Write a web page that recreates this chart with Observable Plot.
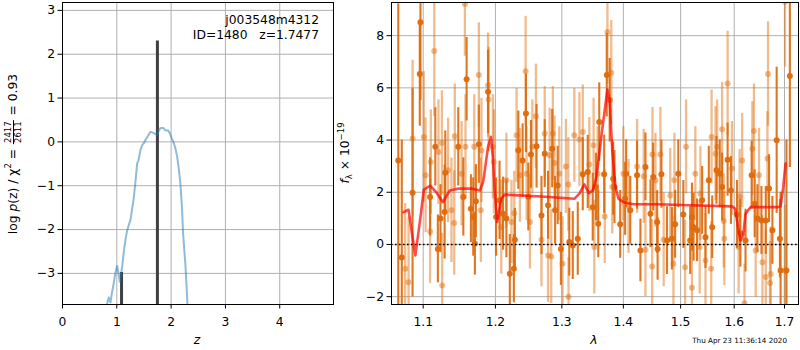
<!DOCTYPE html>
<html><head><meta charset="utf-8">
<script src="https://cdn.jsdelivr.net/npm/d3@7"></script>
<script src="https://cdn.jsdelivr.net/npm/@observablehq/plot@0.6"></script>
<style>
body{margin:0;background:#fff;font-family:"DejaVu Sans",sans-serif;}
#wrap{position:relative;width:800px;height:350px;overflow:hidden;background:#fff}
#left,#right{position:absolute;top:0}
#left{left:0}
#right{left:345px}
.lab{position:absolute;white-space:nowrap;font-size:12.3px;color:#000;line-height:1;transform:translate(-50%,-50%)}
.rot{transform:translate(-50%,-50%) rotate(-90deg)}
.frac{display:inline-flex;flex-direction:column;vertical-align:middle;font-size:8.5px;line-height:1;text-align:center;margin:0 1px}
.frac .num{border-bottom:1px solid #000;padding:0 1px}
sub,sup{font-size:8.5px;line-height:0}
#stamp{position:absolute;right:13px;top:336px;font-size:7.2px;white-space:nowrap}
</style></head>
<body><div id="wrap">
<div id="left"></div><div id="right"></div>
<div class="lab rot" style="left:12.5px;top:153.5px">log <i>p</i>(z) / χ<sup>2</sup> = <span class="frac"><span class="num">2417</span><span>2611</span></span> = 0.93</div>
<div class="lab rot" style="left:345px;top:153px"><i>f</i><sub>λ</sub> × 10<sup>−19</sup></div>
<div class="lab" style="left:197px;top:340px"><i>z</i></div>
<div class="lab" style="left:594px;top:340px"><i>λ</i></div>
<div id="stamp">Thu Apr 23 11:36:14 2020</div>
</div>
<script>
// ---------- Left panel data ----------
const zTicks = [0, 1, 2, 3, 4];
const pzTicks = [-3, -2, -1, 0, 1, 2, 3];
const zDomain = [0, 4.99];
const pzDomain = [-3.71, 3.18];
const zCurve = [0.82,0.835,0.853,0.87,0.884,0.91,0.945,0.975,1.007,1.03,1.055,1.075,1.10,1.13,1.16,1.19,1.22,1.252,1.28,1.31,1.34,1.375,1.40,1.436,1.47,1.497,1.53,1.57,1.62,1.66,1.70,1.74,1.77,1.80,1.84,1.866,1.89,1.91,1.946,1.975,2.0,2.05,2.08,2.11,2.14,2.17,2.20,2.22,2.245,2.265,2.285,2.30];
const logPz = [-3.71,-3.62,-3.55,-3.63,-3.66,-3.45,-3.21,-2.98,-2.83,-2.98,-3.19,-3.05,-2.83,-2.50,-2.23,-2.02,-1.90,-1.78,-1.55,-1.30,-0.95,-0.49,-0.42,-0.18,-0.07,-0.03,0.05,0.13,0.23,0.21,0.19,0.16,0.24,0.31,0.32,0.31,0.27,0.26,0.26,0.20,0.12,-0.03,-0.15,-0.33,-0.60,-0.94,-1.50,-2.08,-2.50,-2.84,-3.30,-3.71];
const zPeaks = [1.087, 1.7477];
const peakLogP = [-2.98, 2.30];
const infoLines = ["j003548m4312", "ID=1480\u00a0\u00a0\u00a0z=1.7477"];

// ---------- Right panel data ----------
const lamTicks = [1.1, 1.2, 1.3, 1.4, 1.5, 1.6, 1.7];
const fluxTicks = [-2, 0, 2, 4, 6, 8];
const lamDomain = [1.0588, 1.7289];
const fluxDomain = [-2.3, 9.27];

const lamDark = [1.0675,1.072,1.086,1.0955,1.0964,1.1092,1.1162,1.1196,1.1232,1.1288,1.1297,1.1475,1.1545,1.1591,1.1651,1.1684,1.1707,1.1721,1.1763,1.1894,
1.2010,1.2060,1.2111,1.2160,1.2210,1.2270,1.2285,1.2336,1.2400,1.2450,1.2486,1.2525,1.2610,1.2685,1.2735,1.2786,1.2850,1.2895,1.2935,1.2985,
1.3117,1.3172,1.3252,1.3332,1.3412,1.3493,1.3546,1.3583,1.3599,1.3680,1.3723,1.3771,1.3830,1.3851,1.3947,1.4030,1.4047,1.4117,1.4233,1.4291,
1.4378,1.4465,1.4512,1.4582,1.4590,1.4657,1.4756,1.4843,1.4901,1.4958,1.5049,1.5174,1.5206,1.5236,1.5300,1.5394,1.5456,1.5518,1.5582,1.5662,
1.5724,1.5769,1.5874,1.5938,1.6054,1.6120,1.6220,1.6340,1.6400,1.6454,1.6534,1.6620,1.6686,1.6754,1.6840,1.6906,1.6920,1.7040,1.7110];
const fluxDark = [3.22,-0.5,1.98,6.53,8.51,1.82,3.74,-0.17,0.99,1.24,2.75,3.74,1.82,6.33,1.37,1.05,0.03,1.66,3.84,5.85,
1.05,1.69,1.18,0.99,-1.12,-0.93,0.18,3.61,3.22,5.02,1.82,3.45,3.76,1.11,3.48,1.50,3.67,1.31,2.26,-0.17,
0.09,-0.04,0.22,2.69,2.78,1.43,2.20,0.79,4.69,2.69,6.49,5.53,2.52,2.20,0.77,1.75,2.71,1.31,2.65,-0.23,
2.97,1.18,2.58,0.86,-0.17,2.69,0.15,0.22,0.77,2.71,1.15,0.15,1.05,0.66,0.54,1.69,0.28,2.46,0.66,2.84,
2.71,2.20,3.25,2.07,1.15,0.43,0.15,2.65,1.56,0.99,0.92,0.92,2.14,0.54,3.99,0.22,-1.0,-1.0,6.45];
const errDark = [6.0,4.5,4.0,2.0,3.0,1.5,1.5,1.3,1.3,1.8,1.6,1.5,1.5,1.6,1.3,1.5,1.2,1.4,1.5,1.6,
1.5,1.5,1.4,1.5,1.5,1.3,1.2,1.5,1.4,1.5,1.3,1.3,1.6,1.5,1.3,1.3,1.5,1.3,1.5,1.4,
1.3,1.3,1.4,1.4,1.4,1.3,1.3,1.3,1.5,1.5,1.6,1.6,1.4,1.4,1.3,1.4,1.3,1.3,1.3,1.2,
1.3,1.3,1.3,1.2,1.2,1.3,1.3,1.2,1.3,1.3,1.3,1.3,1.3,1.3,1.2,1.3,1.2,1.3,1.2,1.3,
1.3,1.3,1.4,1.3,1.3,1.3,1.2,1.3,1.3,1.3,1.3,1.3,1.3,1.3,2.8,1.5,3.0,5.0,3.5];

const lamLight = [1.0764,1.0808,1.0861,1.1008,1.1032,1.1092,1.1102,1.1148,1.1204,1.1251,1.1255,1.1335,1.1381,1.1419,1.1427,1.1521,1.1567,1.1575,1.1698,1.1763,
1.1791,1.1800,1.1894,1.1902,1.1964,1.1978,1.2085,1.2160,1.2235,1.2276,1.2310,1.2360,1.2445,1.2460,1.2510,1.2546,1.2600,1.2685,1.2735,1.2786,
1.2810,1.2835,1.2860,1.2885,1.2960,1.3011,1.3064,1.3101,1.3105,1.3197,1.3278,1.3332,1.3438,1.3507,1.3519,1.3573,1.3690,1.3734,1.3798,1.3814,
1.4000,1.4087,1.4233,1.4348,1.4378,1.4495,1.4500,1.4552,1.4639,1.4697,1.4814,1.4871,1.4889,1.5081,1.5099,1.5206,1.5268,1.5349,1.5362,1.5456,
1.5563,1.5570,1.5644,1.5675,1.5769,1.5800,1.5812,1.5874,1.5957,1.6086,1.6106,1.6154,1.6200,1.6354,1.6386,1.6420,1.6486,1.6554,1.6620,1.6654,
1.6666,1.6706,1.6720,1.7006,1.7010];
const fluxLight = [-0.93,-1.45,4.06,4.12,2.65,0.50,3.16,7.41,3.54,3.89,-1.57,2.84,1.31,0.82,4.15,2.71,9.21,3.74,3.74,6.49,
1.31,3.60,6.10,5.55,3.74,3.16,0.66,2.46,0.86,1.20,4.18,2.65,6.64,2.71,0.86,3.74,4.91,0.18,4.25,-0.42,
3.42,-0.46,4.25,3.12,2.71,-0.74,2.99,2.30,-2.00,4.18,4.02,4.31,3.06,3.80,-0.10,2.71,1.07,8.14,6.58,2.20,
2.71,1.46,2.99,2.61,-0.20,-0.84,3.45,2.46,3.45,0.18,1.88,-0.74,2.46,-0.87,3.74,-1.66,2.71,-0.10,1.95,-0.61,
-0.93,4.12,3.48,3.74,4.41,0.90,0.22,6.17,2.91,-0.10,1.84,3.22,-2.25,3.67,4.35,-0.23,2.65,-0.68,-1.25,3.29,
6.53,-1.48,-1.13,-1.00,9.30];
const errLight = [2.5,2.5,3.0,2.5,2.2,2.0,2.0,2.5,2.0,2.0,2.0,2.0,2.0,2.0,2.0,2.0,2.0,2.0,2.0,2.0,
2.0,2.0,2.0,2.0,2.0,2.0,1.8,1.8,1.6,1.6,1.8,1.8,2.1,1.8,1.8,1.8,2.0,1.8,1.8,1.8,
1.8,1.8,1.8,1.8,1.8,1.8,1.8,1.8,1.5,1.8,1.8,1.8,1.8,1.8,1.8,1.8,1.8,2.0,2.0,1.8,
1.8,1.8,1.8,1.8,1.8,1.8,1.8,1.8,1.8,1.8,1.8,1.8,1.8,1.8,1.8,1.6,1.8,1.8,1.8,1.8,
1.8,1.8,1.8,1.8,1.8,1.8,1.8,2.0,1.8,1.8,1.8,1.8,1.5,1.8,1.8,1.8,1.8,1.8,1.8,1.8,
2.0,1.6,1.8,2.5,2.5];

const lamModel = [1.0741,1.0808,1.0853,1.0897,1.0964,1.1008,1.1092,1.1172,1.1265,1.1358,1.1475,1.1661,1.1777,1.1824,1.1894,1.1936,1.1964,1.1986,1.2025,1.2085,
1.2135,1.2336,1.2685,1.3197,1.3278,1.3358,1.3429,1.3493,1.3546,1.3573,1.3653,1.3734,1.3771,1.3814,1.3867,1.3920,1.4000,1.4174,1.4582,1.5174,
1.5957,1.6020,1.6074,1.6120,1.6174,1.6220,1.6320,1.6854,1.6920,1.6974,1.7021];
const fluxModel = [1.24,1.33,0.41,-0.42,1.05,2.10,2.25,2.01,1.62,2.07,2.14,2.14,2.07,2.39,3.74,4.12,3.35,2.20,0.86,1.75,
1.91,1.88,1.84,1.75,1.95,2.30,1.97,2.07,2.52,2.97,4.50,5.94,5.53,3.61,2.20,1.75,1.62,1.54,1.54,1.50,
1.46,1.37,0.66,0.15,0.35,1.18,1.43,1.43,1.46,2.20,3.10];

// ---------- build tables ----------
const pz = zCurve.map((z, i) => ({z, v: logPz[i]}));
const peaks = zPeaks.map((z, i) => ({z, v: peakLogP[i]}));
const dark = lamDark.map((l, i) => ({l, f: fluxDark[i], e: errDark[i]}));
const light = lamLight.map((l, i) => ({l, f: fluxLight[i], e: errLight[i]}));
const model = lamModel.map((l, i) => ({l, f: fluxModel[i]}));

const minus = d => (d < 0 ? "\u2212" + Math.abs(d) : String(d));
const gridC = "#b0b0b0";
const style = {fontFamily: "DejaVu Sans", fontSize: "12.3px", color: "black", background: "white", overflow: "visible"};

const left = Plot.plot({
  width: 345, height: 350,
  marginLeft: 62, marginRight: 12, marginTop: 2, marginBottom: 46,
  style,
  x: {domain: zDomain, ticks: zTicks, tickFormat: minus, label: null, tickSize: 4.5, tickPadding: 8},
  y: {domain: pzDomain, ticks: pzTicks, tickFormat: minus, label: null, tickSize: 4.5, tickPadding: 3},
  marks: [
    Plot.ruleX(zTicks, {x: d => d, stroke: gridC, strokeWidth: 1}),
    Plot.ruleY(pzTicks, {y: d => d, stroke: gridC, strokeWidth: 1}),
    Plot.ruleX(peaks, {x: "z", y1: pzDomain[0], y2: "v", stroke: "#404040", strokeWidth: 3, clip: true}),
    Plot.line(pz, {x: "z", y: "v", stroke: "#1f77b4", strokeOpacity: 0.5, strokeWidth: 2, clip: true}),
    Plot.text([infoLines[0]], {text: d => d, frameAnchor: "top-right", textAnchor: "end", lineAnchor: "middle", dx: -14.5, dy: 18, fontSize: 12.3}),
    Plot.text([infoLines[1]], {text: d => d, frameAnchor: "top-right", textAnchor: "end", lineAnchor: "middle", dx: -14.5, dy: 32.5, fontSize: 12.3}),
    Plot.frame({stroke: "black", strokeWidth: 1})
  ]
});
document.getElementById("left").appendChild(left);

const orange = "#e07010";
const right = Plot.plot({
  width: 455, height: 350,
  marginLeft: 46, marginRight: 2, marginTop: 2, marginBottom: 46,
  style,
  x: {type: "log", domain: lamDomain, ticks: lamTicks, tickFormat: d => d.toFixed(1), label: null, tickSize: 4.5, tickPadding: 8},
  y: {domain: fluxDomain, ticks: fluxTicks, tickFormat: minus, label: null, tickSize: 4.5, tickPadding: 3},
  marks: [
    Plot.ruleX(lamTicks, {x: d => d, stroke: gridC, strokeWidth: 1}),
    Plot.ruleY(fluxTicks, {y: d => d, stroke: gridC, strokeWidth: 1}),
    Plot.ruleX(light, {x: "l", y1: d => d.f - d.e, y2: d => d.f + d.e, stroke: orange, strokeOpacity: 0.48, strokeWidth: 2.3, clip: true}),
    Plot.dot(light, {x: "l", y: "f", r: 3, fill: orange, fillOpacity: 0.48, stroke: "none", clip: true}),
    Plot.ruleX(dark, {x: "l", y1: d => d.f - d.e, y2: d => d.f + d.e, stroke: "#dd6a0c", strokeOpacity: 0.92, strokeWidth: 2.1, clip: true}),
    Plot.dot(dark, {x: "l", y: "f", r: 3, fill: "#dd6a0c", fillOpacity: 0.95, stroke: "none", clip: true}),
    Plot.ruleY([0], {y: d => d, stroke: "black", strokeWidth: 1.6, strokeDasharray: "1.6,2.4"}),
    Plot.line(model, {x: "l", y: "f", stroke: "red", strokeOpacity: 0.7, strokeWidth: 2.6, clip: true}),
    Plot.frame({stroke: "black", strokeWidth: 1})
  ]
});
document.getElementById("right").appendChild(right);
</script>
</body></html>
